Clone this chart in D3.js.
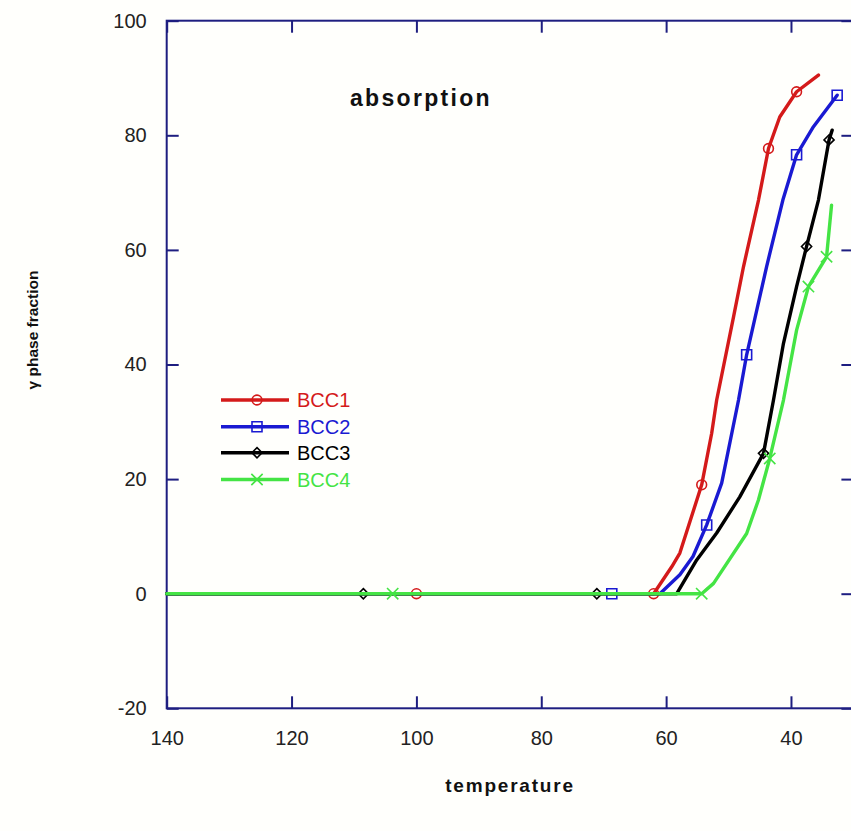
<!DOCTYPE html>
<html>
<head>
<meta charset="utf-8">
<script src="https://cdn.jsdelivr.net/npm/d3@7"></script>
<style>
  html, body { margin: 0; padding: 0; background: #fffffc; }
  svg { display: block; }
  text { font-family: "Liberation Sans", Arial, sans-serif; }
</style>
</head>
<body>
<svg id="chart" width="851" height="831"></svg>
<script>
// Temperature (x) and gamma phase fraction (y) for each BCC series
const bcc1T = [140, 100, 62, 59.1, 57.8, 54.3, 52.7, 51.9, 49.2, 47.6, 45.2, 43.6, 41.8, 39.1, 35.6];
const bcc1F = [0, 0, 0, 4.7, 7.1, 19.0, 28.0, 33.8, 48.3, 57.1, 68.7, 77.7, 83.2, 87.6, 90.5];
const bcc1Marks = [100, 62, 54.3, 43.6, 39.1];

const bcc2T = [140, 68.7, 61, 57.8, 55.7, 53.5, 51.1, 48.4, 47.1, 43.9, 41.3, 39.1, 36.4, 32.6];
const bcc2F = [0, 0, 0, 3.3, 6.5, 12.0, 19.3, 33.8, 41.7, 57.1, 68.7, 76.6, 81.5, 87.0];
const bcc2Marks = [68.7, 53.5, 47.1, 39.1, 32.6];

const bcc3T = [140, 108.5, 71.1, 58.3, 55.1, 51.9, 48.2, 44.4, 42.8, 41.2, 39.1, 37.5, 35.6, 33.9, 33.4];
const bcc3F = [0, 0, 0, 0, 5.9, 10.6, 16.9, 24.5, 33.8, 43.7, 53.6, 60.6, 68.7, 79.2, 80.9];
const bcc3Marks = [108.5, 71.1, 44.4, 37.5, 33.9];

const bcc4T = [140, 103.8, 54.3, 52.4, 47.1, 45.2, 43.4, 41.2, 39.1, 37.2, 34.3, 33.5];
const bcc4F = [0, 0, 0, 1.8, 10.5, 16.4, 23.6, 33.8, 46.0, 53.6, 58.8, 67.8];
const bcc4Marks = [103.8, 54.3, 43.4, 37.2, 34.3];

const seriesNames = ["BCC1", "BCC2", "BCC3", "BCC4"];
const xTicks = [140, 120, 100, 80, 60, 40];
const yTicks = [-20, 0, 20, 40, 60, 80, 100];
const chartTitle = "absorption";
const xTitle = "temperature";
const yTitle = "γ phase fraction";

const colors = ["#d41a1a", "#1a1ad2", "#000000", "#44e444"];
const symbols = ["circle", "square", "diamond", "cross"];
const axisColor = "#1e1e80";

const series = [
  { T: bcc1T, F: bcc1F, marks: bcc1Marks },
  { T: bcc2T, F: bcc2F, marks: bcc2Marks },
  { T: bcc3T, F: bcc3F, marks: bcc3Marks },
  { T: bcc4T, F: bcc4F, marks: bcc4Marks }
].map((s, i) => ({
  name: seriesNames[i],
  color: colors[i],
  symbol: symbols[i],
  points: s.T.map((t, j) => ({ t, f: s.F[j] })),
  markers: s.marks.map(t => ({ t, f: s.F[s.T.indexOf(t)] }))
}));

const svg = d3.select("#chart");
const plotLeft = 166.7, plotRight = 853.4, plotTop = 20.7, plotBottom = 708.3;

const x = d3.scaleLinear().domain([140, 30]).range([plotLeft, plotRight]);
const y = d3.scaleLinear().domain([-20, 100]).range([plotBottom, plotTop]);

// plot frame
svg.append("rect")
  .attr("x", plotLeft).attr("y", plotTop)
  .attr("width", plotRight - plotLeft).attr("height", plotBottom - plotTop)
  .attr("fill", "none").attr("stroke", axisColor).attr("stroke-width", 2);

// axes with inward ticks; labels use a plain hyphen for negatives
const plainFormat = d => String(d);
function styleAxis(g) {
  g.select(".domain").remove();
  g.selectAll(".tick line").attr("stroke", axisColor).attr("stroke-width", 2);
  g.selectAll(".tick text").attr("fill", "#222").style("font-size", "20px");
}
svg.append("g").attr("transform", `translate(0,${plotBottom})`)
  .call(d3.axisBottom(x).tickValues(xTicks).tickSize(-12).tickPadding(23).tickFormat(plainFormat))
  .call(styleAxis);
svg.append("g").attr("transform", `translate(0,${plotTop})`)
  .call(d3.axisTop(x).tickValues(xTicks).tickSize(-12).tickFormat(""))
  .call(styleAxis);
svg.append("g").attr("transform", `translate(${plotLeft},0)`)
  .call(d3.axisLeft(y).tickValues(yTicks).tickSize(-12).tickPadding(20).tickFormat(plainFormat))
  .call(styleAxis);
svg.append("g").attr("transform", `translate(${plotRight},0)`)
  .call(d3.axisRight(y).tickValues(yTicks).tickSize(-12).tickFormat(""))
  .call(styleAxis);

// marker shapes
const symbolType = {
  circle: d3.symbolCircle,
  square: d3.symbolSquare,
  diamond: d3.symbolDiamond2,
  cross: d3.symbolX
};
const symbolSize = { circle: 75, square: 100, diamond: 65, cross: 85 };

function drawMarker(g, s, px, py) {
  g.append("path")
    .attr("d", d3.symbol().type(symbolType[s.symbol]).size(symbolSize[s.symbol])())
    .attr("transform", `translate(${px},${py})`)
    .attr("fill", "none")
    .attr("stroke", s.color)
    .attr("stroke-width", 1.6);
}

const line = d3.line().x(d => x(d.t)).y(d => y(d.f));
const plot = svg.append("g");
series.forEach(s => {
  const g = plot.append("g");
  g.append("path").datum(s.points)
    .attr("d", line)
    .attr("fill", "none")
    .attr("stroke", s.color)
    .attr("stroke-width", 3.4)
    .attr("stroke-linejoin", "round")
    .attr("stroke-linecap", "round");
  s.markers.forEach(m => drawMarker(g, s, x(m.t), y(m.f)));
});

// legend
const legend = svg.append("g");
const legendRows = [400, 426.7, 452.7, 479.5];
series.forEach((s, i) => {
  const ly = legendRows[i];
  legend.append("line").attr("x1", 221).attr("x2", 289).attr("y1", ly).attr("y2", ly)
    .attr("stroke", s.color).attr("stroke-width", 3.4);
  drawMarker(legend, s, 257, ly);
  legend.append("text").attr("x", 297).attr("y", ly).attr("dy", "0.36em")
    .attr("fill", s.color).style("font-size", "20px").text(s.name);
});

// titles
svg.append("text").attr("x", 350).attr("y", 106)
  .style("font-size", "23px").style("font-weight", "bold").style("letter-spacing", "2.3px")
  .attr("fill", "#111").text(chartTitle);
svg.append("text").attr("x", 510).attr("y", 792).attr("text-anchor", "middle")
  .style("font-size", "19px").style("font-weight", "bold").style("letter-spacing", "1.8px")
  .attr("fill", "#111").text(xTitle);
svg.append("text").attr("transform", "translate(38,330) rotate(-90)").attr("text-anchor", "middle")
  .style("font-size", "15.5px").style("font-weight", "bold")
  .attr("fill", "#111").text(yTitle);
</script>
</body>
</html>
